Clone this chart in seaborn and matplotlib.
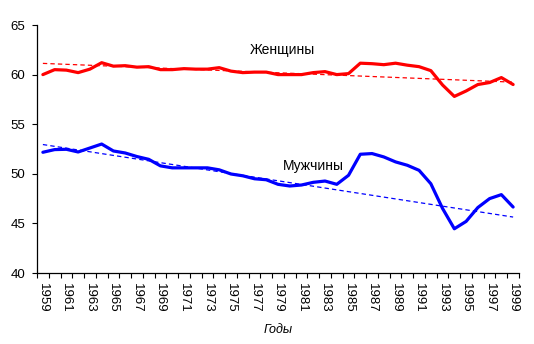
import numpy as np
import pandas as pd
import matplotlib
matplotlib.use("Agg")
import matplotlib.pyplot as plt
import seaborn as sns

# Life expectancy at birth, Russia 1959-1999
years = list(range(1959, 2000))
women = [60.0, 60.5, 60.45, 60.2, 60.55, 61.2, 60.85, 60.9, 60.75, 60.8,
         60.5, 60.5, 60.6, 60.55, 60.55, 60.7, 60.35, 60.2, 60.25, 60.25,
         60.0, 60.0, 60.0, 60.2, 60.3, 60.0, 60.1, 61.15, 61.1, 61.0,
         61.15, 60.95, 60.8, 60.4, 58.95, 57.8, 58.35, 59.0, 59.2, 59.7,
         59.0]
men = [52.17, 52.44, 52.47, 52.2, 52.6, 53.0, 52.3, 52.1, 51.74, 51.46,
       50.8, 50.6, 50.6, 50.6, 50.6, 50.4, 49.98, 49.8, 49.5, 49.4,
       48.94, 48.77, 48.87, 49.14, 49.27, 48.94, 49.85, 51.97, 52.04, 51.7,
       51.2, 50.86, 50.35, 49.0, 46.5, 44.46, 45.2, 46.6, 47.5, 47.9,
       46.65]
# Linear trend values at 1959 and 1999
women_trend = [61.13, 59.24]
men_trend = [52.95, 45.64]
series_names = ["Женщины", "Мужчины"]
series_colors = ["#FF0000", "#0000FF"]
y_ticks = [40, 45, 50, 55, 60, 65]
x_label = "Годы"

sns.set_theme(style="white")
plt.rcParams["font.family"] = ["Liberation Sans", "DejaVu Sans"]

idx = np.arange(len(years))
df = pd.DataFrame({"i": np.concatenate([idx, idx]),
                   "value": women + men,
                   "sex": [series_names[0]] * len(years) + [series_names[1]] * len(years)})

fig = plt.figure(figsize=(5.34, 3.44), dpi=100)
ax = fig.add_axes([37 / 534, 1 - 273 / 344, (519 - 37) / 534, (273 - 25) / 344])

sns.lineplot(data=df, x="i", y="value", hue="sex", palette=series_colors,
             hue_order=series_names, linewidth=2.3, legend=False, ax=ax)

# Straight trend lines across the whole period
for trend, col in zip([women_trend, men_trend], series_colors):
    ax.plot([idx[0], idx[-1]], trend, color=col, linewidth=0.9,
            linestyle=(0, (3.5, 2.5)))

ax.set_xlim(-0.5, len(years) - 0.5)
ax.set_ylim(40, 65)
ax.set_yticks(y_ticks)
ax.set_yticklabels([str(v) for v in y_ticks], fontsize=9.5, color="black")

# Category axis: tick marks between categories, labels every other year
ax.set_xticks(np.arange(-0.5, len(years), 1.0), minor=True)
ax.set_xticks(idx[::2])
ax.set_xticklabels([str(y) for y in years[::2]], rotation=270, fontsize=9.5,
                   color="black", va="top", ha="center")
ax.tick_params(axis="x", which="major", length=0, pad=7)
ax.tick_params(axis="x", which="minor", length=3.5, width=0.8, color="black",
               direction="out", bottom=True)
ax.tick_params(axis="y", which="major", length=3.5, width=0.8, color="black",
               direction="out", left=True, pad=5)

for side in ["top", "right"]:
    ax.spines[side].set_visible(False)
for side in ["left", "bottom"]:
    ax.spines[side].set_color("black")
    ax.spines[side].set_linewidth(0.9)

ax.set_xlabel(x_label, fontsize=9, fontstyle="italic", labelpad=8, color="black")
ax.set_ylabel("")

ax.text(20.4, 62.5, series_names[0], fontsize=10, ha="center", va="center", color="black")
ax.text(23.0, 50.76, series_names[1], fontsize=10, ha="center", va="center", color="black")

fig.savefig("out.png", dpi=100, facecolor="white")
